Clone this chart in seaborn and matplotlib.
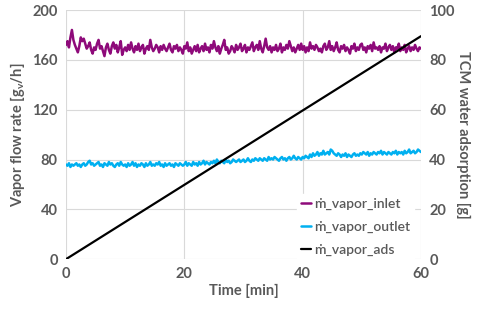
import numpy as np
import pandas as pd
import matplotlib
matplotlib.use("Agg")
import matplotlib.pyplot as plt
import seaborn as sns

# time axis [min], one reading every quarter minute
time_min = np.arange(0, 60.25, 0.25)

# vapor flow at the inlet [g/h], one row = 5 min
vapor_inlet = [172, 175, 170, 178, 184, 176, 172, 169, 166, 171, 178, 175, 177, 173, 169, 171, 174, 168, 165, 170,
               168, 173, 176, 169, 171, 167, 163, 170, 173, 168, 165, 171, 174, 169, 172, 166, 170, 175, 164, 168,
               170, 167, 172, 168, 174, 169, 166, 171, 168, 173, 167, 170, 172, 165, 169, 171, 168, 176, 170, 167,
               169, 172, 170, 166, 171, 168, 172, 169, 167, 170, 173, 168, 166, 171, 169, 172, 167, 170, 168, 165,
               171, 169, 174, 167, 170, 165, 168, 171, 167, 172, 166, 169, 171, 167, 173, 168, 170, 166, 172, 169,
               175, 170, 167, 171, 165, 169, 172, 176, 168, 170, 165, 167, 171, 169, 166, 172, 168, 170, 173, 167,
               169, 172, 166, 170, 168, 171, 174, 167, 170, 172, 168, 175, 169, 166, 171, 177, 170, 168, 171, 166,
               170, 168, 172, 167, 169, 173, 166, 170, 168, 172, 169, 175, 171, 167, 170, 166, 169, 172, 168, 173,
               168, 171, 166, 170, 167, 174, 169, 171, 168, 172, 170, 167, 169, 166, 171, 173, 168, 170, 175, 168,
               171, 167, 170, 174, 168, 166, 171, 169, 172, 167, 170, 168, 165, 171, 169, 173, 167, 170, 168, 172,
               173, 168, 170, 166, 171, 169, 172, 167, 174, 169, 170, 168, 171, 166, 170, 169, 173, 167, 170, 172,
               168, 171, 166, 170, 169, 173, 167, 170, 168, 172, 166, 169, 171, 167, 170, 168, 172, 169, 167, 170,
               169]

# vapor flow at the outlet [g/h], one row = 5 min
vapor_outlet = [76, 75, 77, 74, 76, 75, 76, 77, 75, 76, 74, 76, 77, 75, 76, 78, 79, 76, 77, 75,
                76, 77, 78, 75, 76, 74, 77, 76, 75, 78, 76, 77, 75, 74, 76, 77, 75, 78, 76, 75,
                76, 74, 77, 75, 76, 78, 75, 77, 74, 76, 75, 77, 76, 74, 77, 75, 76, 78, 75, 76,
                75, 77, 76, 78, 75, 76, 74, 77, 75, 76, 77, 75, 76, 74, 77, 76, 75, 77, 76, 75,
                76, 78, 75, 77, 76, 75, 78, 76, 77, 75, 78, 76, 77, 79, 76, 78, 77, 76, 78, 77,
                79, 77, 80, 78, 77, 79, 78, 77, 80, 78, 79, 77, 78, 80, 79, 78, 79, 80, 78, 79,
                80, 78, 79, 81, 79, 78, 80, 79, 81, 80, 79, 81, 80, 79, 81, 80, 79, 82, 80, 81,
                80, 82, 81, 80, 79, 81, 82, 80, 81, 79, 81, 82, 80, 81, 83, 81, 80, 82, 81, 80,
                82, 81, 83, 82, 81, 84, 82, 85, 83, 84, 86, 83, 85, 84, 87, 84, 85, 86, 84, 88,
                87, 85, 84, 83, 85, 84, 82, 84, 83, 85, 82, 84, 83, 82, 84, 85, 83, 84, 83, 85,
                84, 86, 85, 84, 86, 83, 85, 84, 86, 85, 84, 86, 85, 87, 84, 86, 85, 84, 86, 85,
                84, 86, 85, 87, 84, 86, 85, 86, 84, 87, 85, 86, 88, 85, 86, 87, 85, 86, 88, 87,
                86]

# cumulative water adsorbed in the TCM [g] (straight line)
ads_time = [0, 60]
ads_mass = [0, 89.5]

assert len(vapor_inlet) == len(time_min) == len(vapor_outlet)

df = pd.DataFrame({"t": time_min, "inlet": vapor_inlet, "outlet": vapor_outlet})
df_ads = pd.DataFrame({"t": ads_time, "ads": ads_mass})

sns.set_style("white")
plt.rcParams["font.family"] = ["Lato", "DejaVu Sans"]
plt.rcParams["mathtext.fontset"] = "custom"
plt.rcParams["mathtext.rm"] = "Lato"

txt = "#595959"
grid_c = "#D9D9D9"

fig = plt.figure(figsize=(4.8, 3.13), dpi=100)
ax = fig.add_axes([0.1375, 0.172, 0.7395, 0.796])
ax2 = ax.twinx()

sns.lineplot(data=df, x="t", y="inlet", ax=ax, color="#8E0A7A", lw=1.8,
             label="ṁ_vapor_inlet", legend=False)
sns.lineplot(data=df, x="t", y="outlet", ax=ax, color="#00B0F0", lw=1.8,
             label="ṁ_vapor_outlet", legend=False)
sns.lineplot(data=df_ads, x="t", y="ads", ax=ax2, color="black", lw=1.6,
             label="ṁ_vapor_ads", legend=False)

ax.set_xlim(0, 60)
ax.set_ylim(0, 200)
ax2.set_ylim(0, 100)
ax.set_xticks([0, 20, 40, 60])
ax.set_yticks([0, 40, 80, 120, 160, 200])
ax2.set_yticks([0, 20, 40, 60, 80, 100])

ax.grid(True, color=grid_c, lw=0.8)
ax.set_axisbelow(True)
for a in (ax, ax2):
    for s in a.spines.values():
        s.set_visible(False)
    a.tick_params(length=0, labelsize=10.5, labelcolor=txt, pad=6)
    for lab in a.get_xticklabels() + a.get_yticklabels():
        lab.set_fontweight("bold")

ax.set_xlabel("Time [min]", fontsize=10.5, fontweight="bold", color=txt, labelpad=2)
ax.set_ylabel("Vapor flow rate [g$_\\mathregular{v}$/h]", fontsize=10.5,
              fontweight="bold", color=txt, labelpad=4)
ax2.set_ylabel("TCM water adsorption [g]", fontsize=10.5, fontweight="bold",
               color=txt, rotation=270, labelpad=11)

h1, l1 = ax.get_legend_handles_labels()
h2, l2 = ax2.get_legend_handles_labels()
leg = ax2.legend(h1 + h2, l1 + l2, loc="lower right", bbox_to_anchor=(1.0, -0.03),
                 frameon=True, facecolor="white", edgecolor="white", framealpha=1,
                 fontsize=10, handlelength=0.7, handletextpad=0.2,
                 labelspacing=0.75, borderpad=0.3)
for t in leg.get_texts():
    t.set_color(txt)
    t.set_fontweight("semibold")

fig.savefig("out.png", dpi=100)
